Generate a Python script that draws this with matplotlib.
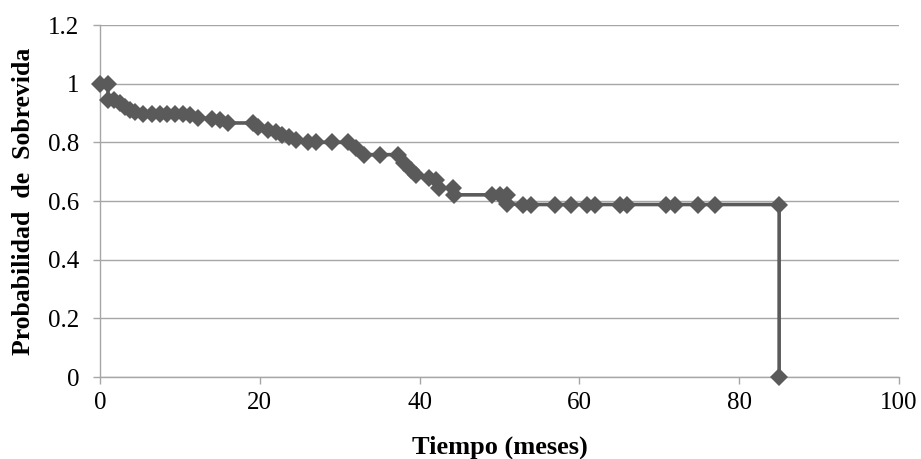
import numpy as np
import matplotlib
matplotlib.use("Agg")
import matplotlib.pyplot as plt
from matplotlib.ticker import FuncFormatter

# survival data (months, probability)
tiempo = [0, 1, 1, 1.7, 2.5, 3.1, 3.8, 4.4, 5.4, 6.5, 7.5, 8.4, 9.4, 10.4,
          11.3, 12.3, 14, 15, 16, 19.1, 19.8, 21, 22, 22.8, 23.6, 24.5,
          26, 27, 29, 31, 32, 33, 35, 37.3, 38, 38.9, 39.5, 41.2, 42, 42.4,
          44.2, 44.3, 49, 50, 51, 51, 52.9, 54, 56.9, 59, 61, 62, 65.1, 66,
          70.9, 72, 74.9, 77, 85, 85]
sobrevida = [1.0, 1.0, 0.945, 0.945, 0.934, 0.922, 0.911, 0.903, 0.897, 0.897,
             0.897, 0.897, 0.897, 0.897, 0.894, 0.883, 0.881, 0.877, 0.866,
             0.866, 0.853, 0.843, 0.836, 0.826, 0.819, 0.809, 0.8, 0.8, 0.8,
             0.8, 0.78, 0.758, 0.758, 0.758, 0.73, 0.706, 0.69, 0.679, 0.672,
             0.645, 0.645, 0.621, 0.621, 0.621, 0.621, 0.59, 0.588, 0.588,
             0.588, 0.588, 0.588, 0.588, 0.588, 0.588, 0.588, 0.588, 0.588,
             0.588, 0.588, 0.0]

x_ticks = [0, 20, 40, 60, 80, 100]
y_ticks = [0, 0.2, 0.4, 0.6, 0.8, 1.0, 1.2]

plt.rcParams['font.family'] = ['Liberation Serif', 'DejaVu Serif']

fig = plt.figure(figsize=(9.21, 4.59), dpi=100)
ax = fig.add_axes([100 / 921, 1 - 377 / 459, 799 / 921, 352 / 459])

grid_col = '#a6a6a6'
line_col = '#5a5a5a'

ax.plot(tiempo, sobrevida, color=line_col, lw=2.6, marker='D', ms=9.5,
        mew=0, clip_on=False, zorder=3)

ax.set_xlim(0, 100)
ax.set_ylim(0, 1.2)
ax.set_xticks(x_ticks)
ax.set_yticks(y_ticks)
ax.yaxis.set_major_formatter(FuncFormatter(lambda v, p: '%g' % v))

ax.yaxis.grid(True, color=grid_col, lw=1)
ax.set_axisbelow(True)
for s in ['top', 'right']:
    ax.spines[s].set_visible(False)
for s in ['left', 'bottom']:
    ax.spines[s].set_color(grid_col)
    ax.spines[s].set_linewidth(1)

ax.tick_params(axis='both', colors=grid_col, labelcolor='black',
               length=5, width=1, labelsize=18)
ax.tick_params(axis='y', pad=10)
ax.tick_params(axis='x', pad=6)

ax.set_xlabel('Tiempo (meses)', fontsize=19, fontweight='bold', labelpad=15)
ax.set_ylabel('Probabilidad  de  Sobrevida', fontsize=18.5, fontweight='bold',
              labelpad=9)

fig.savefig('out.png', dpi=100)
